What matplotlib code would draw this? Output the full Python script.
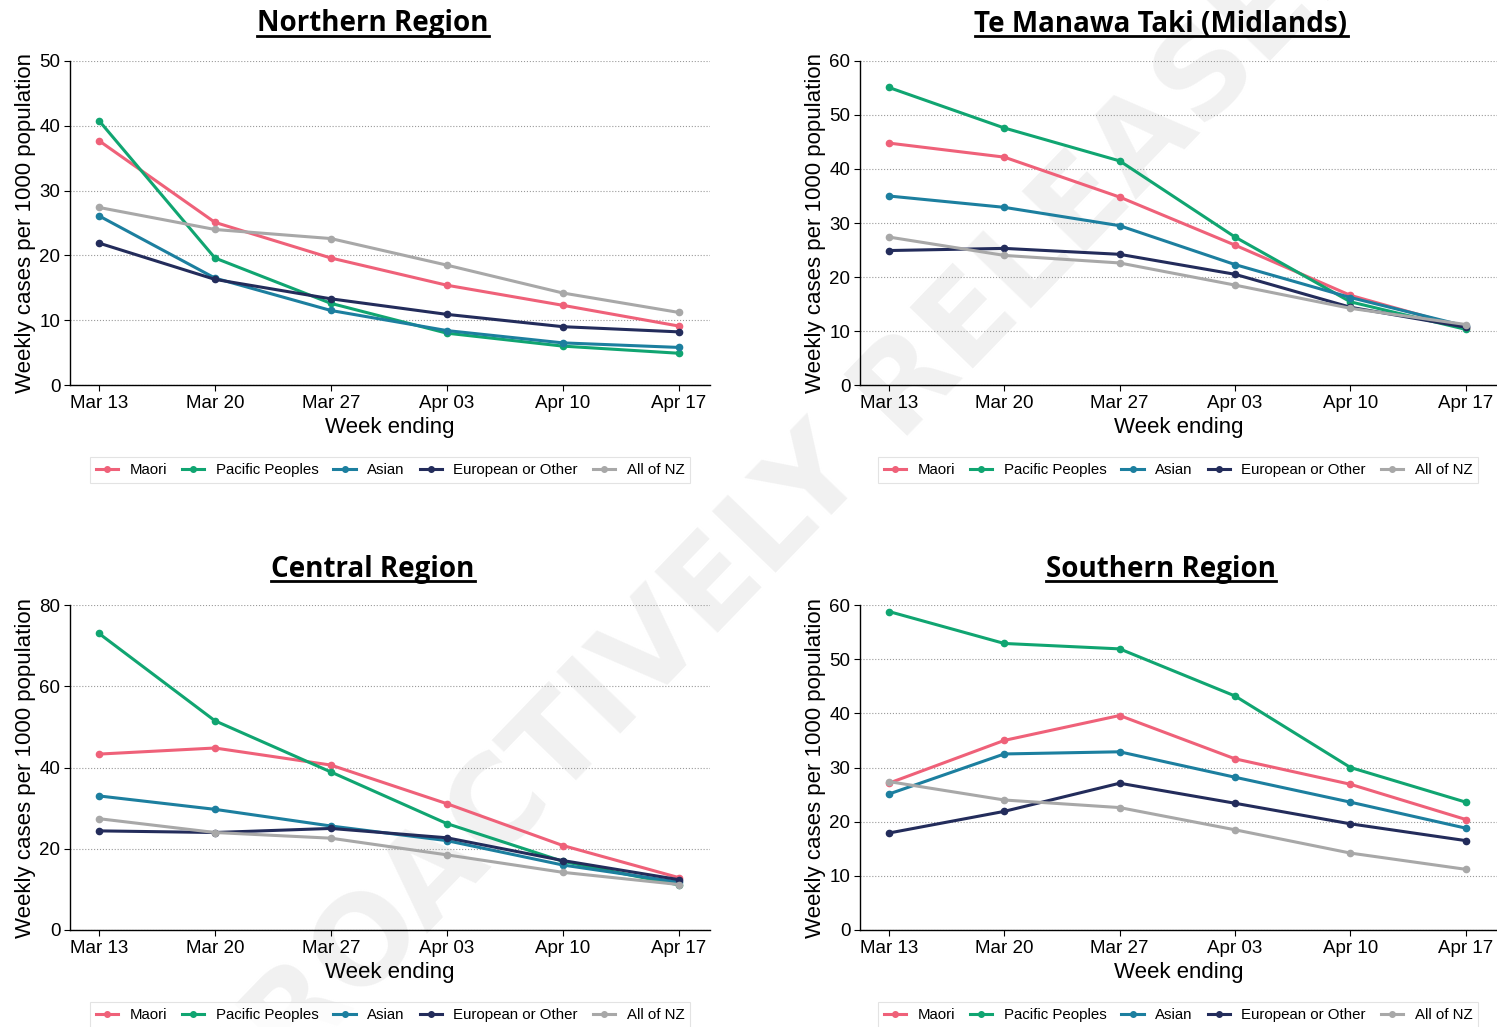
import numpy as np
import matplotlib
matplotlib.use("Agg")
import matplotlib.pyplot as plt
from matplotlib.lines import Line2D

weeks = ["Mar 13", "Mar 20", "Mar 27", "Apr 03", "Apr 10", "Apr 17"]
groups = ["Maori", "Pacific Peoples", "Asian", "European or Other", "All of NZ"]
colors = ["#EF6179", "#10A571", "#1C7F9F", "#232C5B", "#A8A8A8"]

all_nz = [27.4, 24.0, 22.6, 18.5, 14.2, 11.2]

northern = {
    "Maori": [37.7, 25.1, 19.6, 15.4, 12.3, 9.1],
    "Pacific Peoples": [40.8, 19.6, 12.6, 8.0, 6.0, 4.9],
    "Asian": [26.1, 16.5, 11.5, 8.4, 6.5, 5.8],
    "European or Other": [21.9, 16.3, 13.3, 10.9, 9.0, 8.2],
    "All of NZ": all_nz,
}
midlands = {
    "Maori": [44.8, 42.2, 34.8, 25.9, 16.6, 10.6],
    "Pacific Peoples": [55.1, 47.6, 41.5, 27.4, 15.4, 10.3],
    "Asian": [35.0, 32.9, 29.5, 22.3, 16.2, 10.9],
    "European or Other": [24.9, 25.3, 24.2, 20.5, 14.4, 10.7],
    "All of NZ": all_nz,
}
central = {
    "Maori": [43.3, 44.8, 40.6, 31.1, 20.8, 12.9],
    "Pacific Peoples": [73.0, 51.5, 38.9, 26.2, 16.9, 11.1],
    "Asian": [33.0, 29.7, 25.6, 22.0, 16.0, 11.8],
    "European or Other": [24.4, 24.0, 25.0, 22.7, 17.1, 12.4],
    "All of NZ": all_nz,
}
southern = {
    "Maori": [27.1, 35.0, 39.6, 31.6, 26.9, 20.4],
    "Pacific Peoples": [58.8, 52.9, 51.9, 43.2, 30.0, 23.6],
    "Asian": [25.1, 32.5, 32.9, 28.2, 23.6, 18.8],
    "European or Other": [17.9, 21.9, 27.1, 23.4, 19.6, 16.5],
    "All of NZ": all_nz,
}

panels = [
    ("Northern Region", northern, 50, 10),
    ("Te Manawa Taki (Midlands)", midlands, 60, 10),
    ("Central Region", central, 80, 20),
    ("Southern Region", southern, 60, 10),
]

W, H = 1497, 1027
fig = plt.figure(figsize=(W / 100, H / 100), dpi=100)
fig.patch.set_facecolor("white")

tick_font = ["Liberation Sans", "DejaVu Sans"]

# watermark behind everything
fig.text(0.525, 0.50, "PROACTIVELY RELEASED", rotation=46, fontsize=88,
         fontweight="bold", color="#F1F1F1", ha="center", va="center",
         family=["DejaVu Sans"], zorder=-1)

# pixel boxes: (left, top, right, bottom), title centre x/y, legend centre x/y
boxes = [
    ((70, 61, 710, 385), 373, 24, 390, 470),
    ((860, 61, 1497, 385), 1161, 24, 1178, 470),
    ((70, 605, 710, 930), 373, 569, 390, 1015),
    ((860, 605, 1497, 930), 1161, 569, 1178, 1015),
]

x = np.arange(len(weeks))
title_texts = []
for (title, data, ymax, ystep), (box, tx, ty, lx, ly) in zip(panels, boxes):
    l, t, r, b = box
    ax = fig.add_axes([l / W, 1 - b / H, (r - l) / W, (b - t) / H])
    ax.set_facecolor("none")
    for g, c in zip(groups, colors):
        ax.plot(x, data[g], color=c, lw=2.2, marker="o", ms=4.5, label=g,
                solid_capstyle="round")
    ax.set_xlim(-0.25, 5.27)
    ax.set_ylim(0, ymax)
    ax.set_yticks(np.arange(0, ymax + 1, ystep))
    ax.set_xticks(x)
    ax.set_xticklabels(weeks)
    ax.yaxis.grid(True, linestyle=":", color="#9A9A9A", lw=0.8)
    ax.set_axisbelow(True)
    for s in ["top", "right"]:
        ax.spines[s].set_visible(False)
    for s in ["left", "bottom"]:
        ax.spines[s].set_color("black")
        ax.spines[s].set_linewidth(1.0)
    ax.tick_params(direction="out", length=4, width=0.8, colors="black",
                   labelsize=13.5, pad=3)
    for lab in ax.get_xticklabels() + ax.get_yticklabels():
        lab.set_family(tick_font)
    ax.set_xlabel("Week ending", fontsize=16, family=tick_font, labelpad=4)
    ax.set_ylabel("Weekly cases per 1000 population", fontsize=16,
                  family=tick_font, labelpad=2)

    handles = [Line2D([0], [0], color=c, lw=2.2, marker="o", ms=4)
               for c in colors]
    leg = fig.legend(handles, groups, loc="center", ncol=5,
                     bbox_to_anchor=(lx / W, 1 - ly / H), frameon=True,
                     fancybox=False, edgecolor="#DDDDDD", handlelength=1.5,
                     columnspacing=1.0, handletextpad=0.75, borderpad=0.4,
                     prop={"family": tick_font, "size": 10.8})
    leg.get_frame().set_linewidth(0.8)

    tt = fig.text(tx / W, 1 - ty / H, title, ha="center", va="center",
                  fontsize=20, fontweight="bold",
                  family=["Open Sans", "DejaVu Sans"])
    title_texts.append(tt)

# underline the titles
renderer = fig.canvas.get_renderer()
for tt in title_texts:
    bb = tt.get_window_extent(renderer=renderer)
    y0 = (bb.y0 + 3) / H
    fig.add_artist(Line2D([bb.x0 / W, bb.x1 / W], [y0, y0],
                          transform=fig.transFigure, color="black", lw=2.0))

fig.savefig("out.png", dpi=100)
